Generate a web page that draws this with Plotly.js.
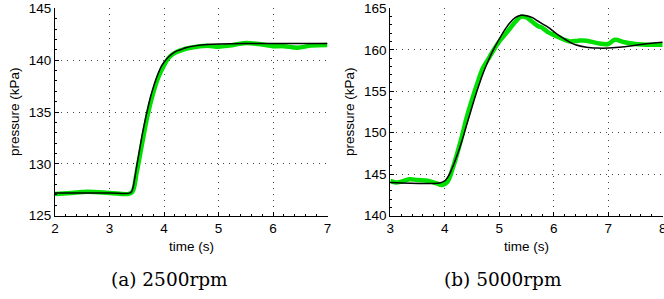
<!DOCTYPE html>
<html>
<head>
<meta charset="utf-8">
<script src="https://cdn.plot.ly/plotly-3.0.1.min.js"></script>
<style>html,body{margin:0;padding:0;background:#fff;}#chart{width:664px;height:299px;}</style>
</head>
<body>
<div id="chart"></div>
<script>
// (a) 2500rpm
const tA_model = [2.0, 3.0, 3.38, 3.42, 3.46, 3.5, 3.55, 3.6, 3.65, 3.7, 3.75, 3.8, 3.85, 3.9, 3.95, 4.0, 4.1, 4.2, 4.3, 4.4, 4.6, 4.8, 5.0, 5.5, 6.0, 7.0];
const pA_model = [127.2, 127.2, 127.2, 127.5, 128.5, 129.8, 131.3, 132.8, 134.1, 135.3, 136.4, 137.3, 138.1, 138.8, 139.4, 139.8, 140.4, 140.8, 141.0, 141.2, 141.4, 141.5, 141.55, 141.6, 141.6, 141.6];
const tA_meas = [2.0, 2.3, 2.6, 3.0, 3.35, 3.42, 3.5, 3.6, 3.7, 3.8, 3.9, 4.0, 4.1, 4.2, 4.4, 4.6, 4.8, 5.0, 5.2, 5.5, 5.8, 6.0, 6.2, 6.45, 6.7, 7.0];
const pA_meas = [127.1, 127.2, 127.3, 127.2, 127.1, 127.3, 129.2, 132.0, 134.7, 136.8, 138.4, 139.5, 140.3, 140.7, 141.1, 141.3, 141.4, 141.3, 141.4, 141.65, 141.5, 141.35, 141.35, 141.2, 141.4, 141.45];

// (b) 5000rpm
const tB_model = [3.0, 3.9, 4.0, 4.05, 4.1, 4.2, 4.3, 4.4, 4.5, 4.6, 4.7, 4.8, 4.9, 5.0, 5.1, 5.2, 5.3, 5.4, 5.5, 5.6, 5.7, 5.8, 5.9, 6.0, 6.1, 6.2, 6.3, 6.4, 6.6, 6.8, 7.0, 7.2, 7.4, 7.6, 7.8, 8.0];
const pB_model = [144.0, 143.95, 144.2, 144.6, 145.2, 146.8, 148.7, 150.9, 153.1, 155.2, 157.1, 158.7, 160.1, 161.3, 162.4, 163.3, 163.9, 164.15, 164.1, 163.9, 163.5, 163.1, 162.7, 162.2, 161.7, 161.3, 160.9, 160.6, 160.3, 160.2, 160.2, 160.3, 160.45, 160.65, 160.8, 160.9];
const tB_meas = [3.0, 3.1, 3.2, 3.35, 3.5, 3.7, 3.85, 3.95, 4.05, 4.15, 4.3, 4.4, 4.5, 4.6, 4.7, 4.8, 4.9, 5.0, 5.1, 5.2, 5.3, 5.4, 5.5, 5.6, 5.7, 5.8, 5.9, 6.0, 6.1, 6.2, 6.3, 6.45, 6.6, 6.8, 7.0, 7.12, 7.3, 7.5, 7.8, 8.0];
const pB_meas = [144.2, 144.0, 144.1, 144.4, 144.3, 144.2, 143.9, 143.7, 144.1, 145.8, 149.2, 151.8, 154.0, 156.0, 157.8, 158.9, 160.0, 161.0, 161.8, 162.6, 163.4, 164.0, 163.9, 163.4, 162.9, 162.6, 162.1, 161.8, 161.5, 161.2, 161.0, 161.1, 161.1, 160.8, 160.7, 161.2, 160.9, 160.7, 160.6, 160.6];

const xTicksA = [2, 3, 4, 5, 6, 7];
const yTicksA = [125, 130, 135, 140, 145];
const xTicksB = [3, 4, 5, 6, 7, 8];
const yTicksB = [140, 145, 150, 155, 160, 165];

const GREEN = '#00e000';
const traces = [
  {x: tA_meas, y: pA_meas, xaxis: 'x', yaxis: 'y', mode: 'lines', line: {color: GREEN, width: 4.5, shape: 'spline'}, hoverinfo: 'skip'},
  {x: tA_model, y: pA_model, xaxis: 'x', yaxis: 'y', mode: 'lines', line: {color: '#000', width: 1.5, shape: 'spline'}, hoverinfo: 'skip'},
  {x: tB_meas, y: pB_meas, xaxis: 'x2', yaxis: 'y2', mode: 'lines', line: {color: GREEN, width: 4.5, shape: 'spline'}, hoverinfo: 'skip'},
  {x: tB_model, y: pB_model, xaxis: 'x2', yaxis: 'y2', mode: 'lines', line: {color: '#000', width: 1.5, shape: 'spline'}, hoverinfo: 'skip'}
];

const W = 664, H = 299;
const tickFont = {family: 'Liberation Sans, Arial, sans-serif', size: 13.5, color: '#000'};
function ax(extra) {
  return Object.assign({
    showline: true, linecolor: '#000', linewidth: 1,
    ticks: 'inside', ticklen: 4, tickcolor: '#000', tickwidth: 1,
    showgrid: true, gridcolor: '#444', gridwidth: 1, griddash: '1px,5px',
    zeroline: false, tickfont: tickFont, fixedrange: true,
    ticklabeloverflow: 'allow'
  }, extra);
}
const yDom = [1 - 215.7 / H, 1 - 8.3 / H];
const layout = {
  width: W, height: H,
  margin: {l: 0, r: 0, t: 0, b: 0},
  paper_bgcolor: '#fff', plot_bgcolor: '#fff',
  showlegend: false,
  xaxis: ax({domain: [55 / W, 327.5 / W], range: [2, 7], tickvals: xTicksA, anchor: 'y', minor: {ticks: 'inside', ticklen: 2, tickcolor: '#000', dtick: 0.2, showgrid: false}}),
  yaxis: ax({domain: yDom, range: [125, 145], tickvals: yTicksA, anchor: 'x', minor: {ticks: 'inside', ticklen: 2, tickcolor: '#000', dtick: 1, showgrid: false}}),
  xaxis2: ax({domain: [390.3 / W, 662.7 / W], range: [3, 8], tickvals: xTicksB, anchor: 'y2', minor: {ticks: 'inside', ticklen: 2, tickcolor: '#000', dtick: 0.2, showgrid: false}}),
  yaxis2: ax({domain: yDom, range: [140, 165], tickvals: yTicksB, anchor: 'x2', minor: {ticks: 'inside', ticklen: 2, tickcolor: '#000', dtick: 1, showgrid: false}}),
  annotations: [
    {text: 'time (s)', x: 191 / W, y: 1 - 246 / H, xref: 'paper', yref: 'paper', showarrow: false, font: tickFont, xanchor: 'center', yanchor: 'middle'},
    {text: 'time (s)', x: 526.5 / W, y: 1 - 246 / H, xref: 'paper', yref: 'paper', showarrow: false, font: tickFont, xanchor: 'center', yanchor: 'middle'},
    {text: 'pressure (kPa)', x: 15 / W, y: 1 - 112 / H, xref: 'paper', yref: 'paper', showarrow: false, font: tickFont, textangle: -90, xanchor: 'center', yanchor: 'middle'},
    {text: 'pressure (kPa)', x: 350 / W, y: 1 - 112 / H, xref: 'paper', yref: 'paper', showarrow: false, font: tickFont, textangle: -90, xanchor: 'center', yanchor: 'middle'},
    {text: '(a) 2500rpm', x: 169 / W, y: 1 - 279 / H, xref: 'paper', yref: 'paper', showarrow: false, font: {family: 'DejaVu Serif, serif', size: 18.5, color: '#000'}, xanchor: 'center', yanchor: 'middle'},
    {text: '(b) 5000rpm', x: 503 / W, y: 1 - 279 / H, xref: 'paper', yref: 'paper', showarrow: false, font: {family: 'DejaVu Serif, serif', size: 18.5, color: '#000'}, xanchor: 'center', yanchor: 'middle'}
  ]
};
Plotly.newPlot('chart', traces, layout, {staticPlot: true, displayModeBar: false});
</script>
</body>
</html>
